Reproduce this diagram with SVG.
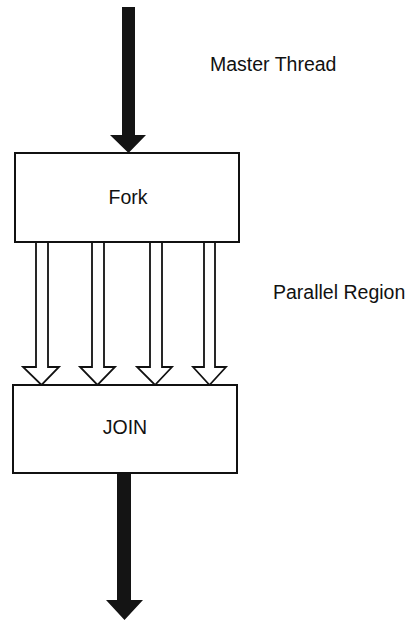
<svg xmlns="http://www.w3.org/2000/svg" width="409" height="624" viewBox="0 0 409 624">
  <style>
    .box { fill: #ffffff; stroke: #111111; stroke-width: 2; }
    .label { font-family: "Liberation Sans", Arial, sans-serif; font-size: 19.5px; fill: #111111; }
    .thick { fill: #141414; stroke: none; }
    .hollow { fill: #ffffff; stroke: #111111; stroke-width: 1.8; stroke-linejoin: miter; }
  </style>
  <rect width="409" height="624" fill="#ffffff"/>

  <!-- master thread arrow into fork, hollow thread arrows, and the single arrow out of join -->
  <g id="connectors">
    <polygon class="thick" points="122,7 135,7 135,135 146,135 128.5,153 110,135 122,135"/>
    <g id="threads">
      <polygon class="hollow" points="36,242 48,242 48,367 59,367 41.5,385 23,367 36,367"/>
      <polygon class="hollow" points="92,242 104,242 104,367 115,367 97.5,385 80,367 92,367"/>
      <polygon class="hollow" points="150,242 162,242 162,367 172,367 155,385 137,367 150,367"/>
      <polygon class="hollow" points="204,242 215,242 215,367 226,367 209.5,385 193,367 204,367"/>
    </g>
    <polygon class="thick" points="117,473 131,473 131,600 143,600 124.5,620 106,600 117,600"/>
  </g>

  <g id="fork">
    <rect class="box" x="15" y="153" width="224" height="89"/>
    <text class="label" x="128" y="204" text-anchor="middle">Fork</text>
  </g>

  <g id="join">
    <rect class="box" x="13" y="385" width="224" height="88"/>
    <text class="label" x="125" y="434" text-anchor="middle">JOIN</text>
  </g>

  <g id="label-master">
    <text class="label" x="210" y="71">Master Thread</text>
  </g>
  <g id="label-parallel">
    <text class="label" x="273" y="299">Parallel Region</text>
  </g>
</svg>
